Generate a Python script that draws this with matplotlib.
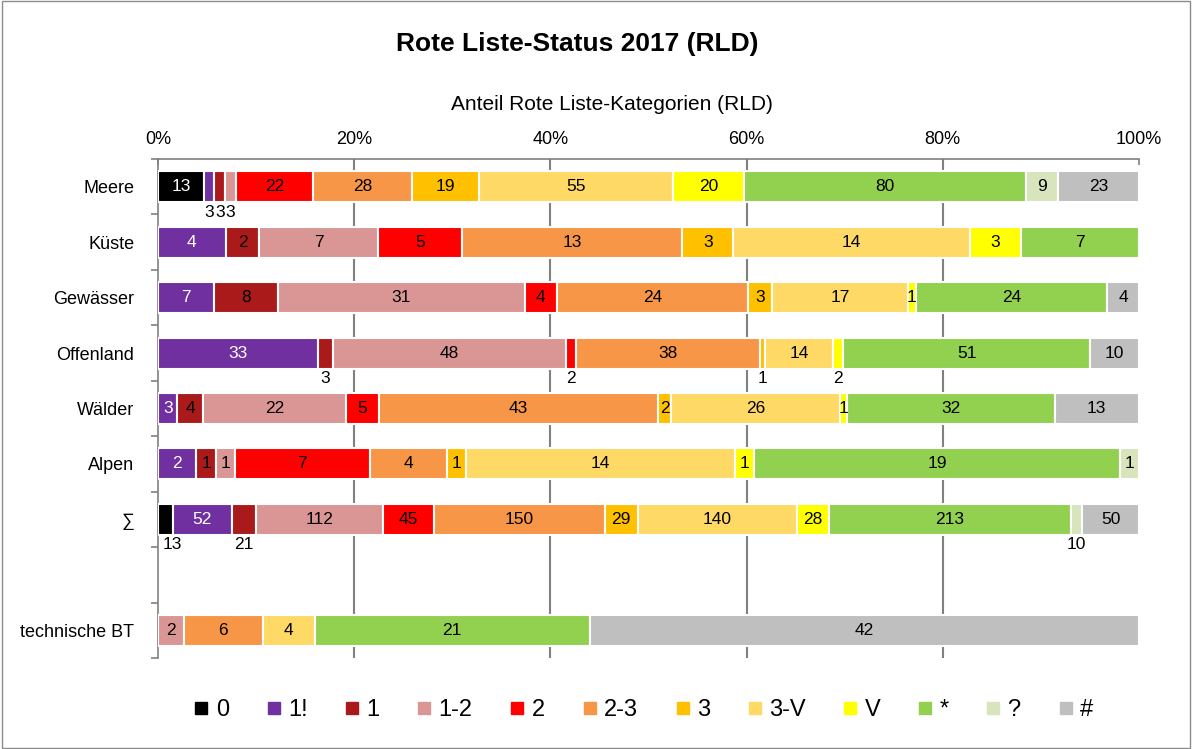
import matplotlib
matplotlib.use("Agg")
import matplotlib.pyplot as plt
from matplotlib.lines import Line2D
from matplotlib.patches import Rectangle
import numpy as np

plt.rcParams['font.family'] = ['Liberation Sans', 'DejaVu Sans']

title = "Rote Liste-Status 2017 (RLD)"
xlabel = "Anteil Rote Liste-Kategorien (RLD)"
rows = ["Meere", "Küste", "Gewässer", "Offenland", "Wälder", "Alpen", "∑", "", "technische BT"]
cats = ["0", "1!", "1", "1-2", "2", "2-3", "3", "3-V", "V", "*", "?", "#"]
colors = ["#000000", "#7030A0", "#AB1A1A", "#DA9694", "#FF0000", "#F79646",
          "#FFC000", "#FFD966", "#FFFF00", "#92D050", "#D8E4BC", "#BFBFBF"]

meere     = [13, 3, 3, 3, 22, 28, 19, 55, 20, 80, 9, 23]
kueste    = [0, 4, 2, 7, 5, 13, 3, 14, 3, 7, 0, 0]
gewaesser = [0, 7, 8, 31, 4, 24, 3, 17, 1, 24, 0, 4]
offenland = [0, 33, 3, 48, 2, 38, 1, 14, 2, 51, 0, 10]
waelder   = [0, 3, 4, 22, 5, 43, 2, 26, 1, 32, 0, 13]
alpen     = [0, 2, 1, 1, 7, 4, 1, 14, 1, 19, 1, 0]
summe     = [13, 52, 21, 112, 45, 150, 29, 140, 28, 213, 10, 50]
leer      = [0] * 12
technisch = [0, 0, 0, 2, 0, 6, 0, 4, 0, 21, 0, 42]

data = np.array([meere, kueste, gewaesser, offenland, waelder, alpen, summe, leer, technisch], dtype=float)

# labels drawn below the bar (row index, category index)
below = {(0, 1), (0, 2), (0, 3), (3, 2), (3, 4), (3, 6), (3, 8), (6, 0), (6, 2), (6, 10)}
white_text = {"0", "1!"}

fig = plt.figure(figsize=(11.92, 7.49), dpi=100)
ax = fig.add_axes([158/1192, 1-658/749, (1139-158)/1192, (658-159)/749])

tot = data.sum(axis=1)
tot[tot == 0] = 1
pct = data / tot[:, None] * 100
y = np.arange(len(rows))
left = np.zeros(len(rows))
bh = 0.56
for j, c in enumerate(cats):
    nz = data[:, j] > 0
    ax.barh(y[nz], pct[nz, j], left=left[nz], height=bh, color=colors[j], edgecolor="white",
            linewidth=1.5, zorder=3)
    for i in range(len(rows)):
        v = data[i, j]
        if v <= 0:
            continue
        cx = left[i] + pct[i, j] / 2
        if (i, j) in below:
            ax.text(max(cx, 1.5), y[i] + 0.46, f"{int(v)}", ha="center", va="center",
                    fontsize=12.5, color="black", zorder=4)
        else:
            ax.text(cx, y[i], f"{int(v)}", ha="center", va="center", fontsize=12.5,
                    color="white" if c in white_text else "black", zorder=4)
    left += pct[:, j]

ax.set_xlim(0, 100)
ax.set_ylim(len(rows) - 0.5, -0.5)
ax.xaxis.tick_top()
ax.set_xticks([0, 20, 40, 60, 80, 100])
ax.set_xticklabels(["0%", "20%", "40%", "60%", "80%", "100%"], fontsize=13)
ax.tick_params(axis="x", direction="in", length=4, width=1.2, color="#808080", pad=8)
ax.set_yticks(y)
ax.set_yticklabels(rows, fontsize=13)
ax.set_yticks(np.arange(-0.5, len(rows)), minor=True)
ax.tick_params(axis="y", which="major", length=0, pad=17)
ax.tick_params(axis="y", which="minor", length=5, color="#808080", width=1.2)
for s in ["right", "bottom"]:
    ax.spines[s].set_visible(False)
for s in ["left", "top"]:
    ax.spines[s].set_color("#808080")
    ax.spines[s].set_linewidth(1.2)
for gx in [20, 40, 60, 80]:
    ax.axvline(gx, color="#808080", linewidth=1.5, zorder=1)

fig.text(577/1192, 1-44/749, title, ha="center", va="center", fontsize=19, fontweight="bold")
fig.text(612/1192, 1-104/749, xlabel, ha="center", va="center", fontsize=15)

handles = [Line2D([], [], marker="s", linestyle="none", markersize=8,
                  markerfacecolor=col, markeredgecolor=col) for col in colors]
fig.legend(handles, cats, loc="center", bbox_to_anchor=(0.54, 1-710/749), ncol=12,
           frameon=False, fontsize=17, handlelength=0.6, handletextpad=0.3,
           columnspacing=1.6)

fig.patches.append(Rectangle((0.002, 0.002), 0.996, 0.996, transform=fig.transFigure,
                             fill=False, edgecolor="#8c8c8c", linewidth=1))

fig.savefig("out.png", dpi=100)
